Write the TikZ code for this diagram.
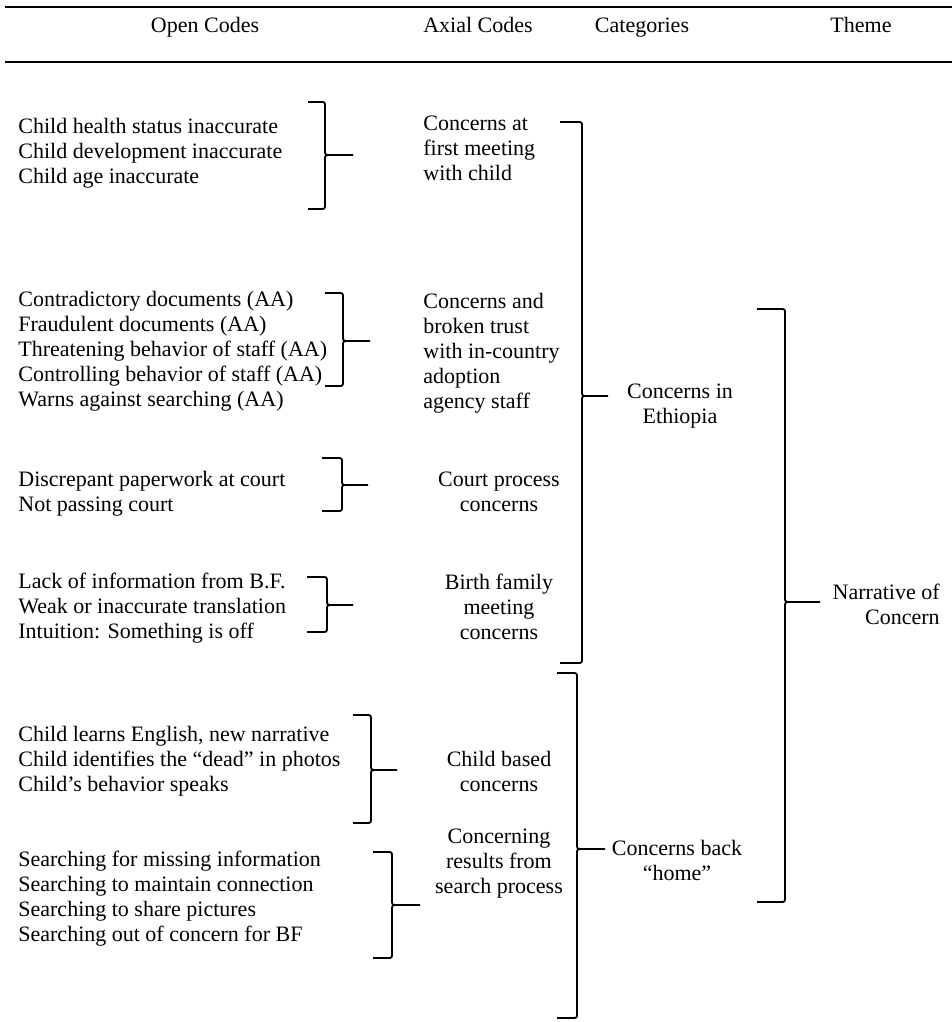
\documentclass[tikz,border=0pt]{standalone}
\usepackage{fontspec}
\setmainfont{Liberation Serif}
\usetikzlibrary{positioning}

% brace: name, stub x, spine x, top, bottom, tip y, tip end x
\newcommand{\codebrace}[7]{%
  \draw[bracket] (#2,#4) -- (#3-5,#4) .. controls (#3,#4) .. (#3,#4+5)
    -- (#3,#6-5) .. controls (#3,#6) .. (#3+6,#6) -- (#7,#6)
    (#3+6,#6) .. controls (#3,#6) .. (#3,#6+5)
    -- (#3,#5-5) .. controls (#3,#5) .. (#3-5,#5) -- (#2,#5);
  \coordinate (#1) at (#7,#6);
}

\begin{document}
\begin{tikzpicture}[
    x=0.5pt, y=-0.5pt,
    txt/.style={inner sep=0pt, font=\fontsize{11}{12.5}\selectfont},
    codes/.style={txt, align=left, anchor=north west},
    group/.style={txt, align=center, anchor=north},
    head/.style={txt, anchor=base},
    rule/.style={line width=0.7pt},
    bracket/.style={line width=0.9pt}
]
\useasboundingbox (0,0) rectangle (952,1022);

% Header
\draw[rule] (5,7) -- (952,7);
\draw[rule] (5,62) -- (952,62);
\node[head] (hopen) at (205,33) {Open Codes};
\node[head] (haxial) at (478,33) {Axial Codes};
\node[head] (hcat) at (642,33) {Categories};
\node[head] (htheme) at (861,33) {Theme};

% Open codes
\node[codes] (oc1) at (18,118) {Child health status inaccurate\\Child development inaccurate\\Child age inaccurate};
\node[codes] (oc2) at (18,291) {Contradictory documents (AA)\\Fraudulent documents (AA)\\Threatening behavior of staff (AA)\\Controlling behavior of staff (AA)\\Warns against searching (AA)};
\node[codes] (oc3) at (18,471) {Discrepant paperwork at court\\Not passing court};
\node[codes] (oc4) at (18,573) {Lack of information from B.F.\\Weak or inaccurate translation\\Intuition: Something is off};
\node[codes] (oc5) at (18,726) {Child learns English, new narrative\\Child identifies the “dead” in photos\\Child’s behavior speaks};
\node[codes] (oc6) at (18,851) {Searching for missing information\\Searching to maintain connection\\Searching to share pictures\\Searching out of concern for BF};

% Axial codes
\node[codes] (ax1) at (423,116) {Concerns at\\first meeting\\with child};
\node[codes] (ax2) at (423,293) {Concerns and\\broken trust\\with in-country\\adoption\\agency staff};
\node[group] (ax3) at (499,472) {Court process\\concerns};
\node[group] (ax4) at (499,574) {Birth family\\meeting\\concerns};
\node[group] (ax5) at (499,751) {Child based\\concerns};
\node[group] (ax6) at (499,829) {Concerning\\results from\\search process};

% Categories and theme
\node[group] (cat1) at (680,384) {Concerns in\\Ethiopia};
\node[group] (cat2) at (677,840) {Concerns back\\“home”};
\node[txt, align=right, anchor=north east] (theme) at (940,584) {Narrative of\\Concern};

% Braces
\codebrace{b1}{308}{325}{102}{209}{155}{353}
\codebrace{b2}{325}{343}{293}{386}{341}{370}
\codebrace{b3}{322}{342}{458}{511}{485}{368}
\codebrace{b4}{307}{327}{577}{632}{605}{353}
\codebrace{b5}{353}{371}{715}{823}{770}{397}
\codebrace{b6}{373}{392}{852}{958}{905}{420}
\codebrace{b7}{560}{582}{122}{663}{396}{608}
\codebrace{b8}{557}{577}{673}{1018}{849}{605}
\codebrace{b9}{757}{785}{309}{902}{602}{820}

\end{tikzpicture}
\end{document}
